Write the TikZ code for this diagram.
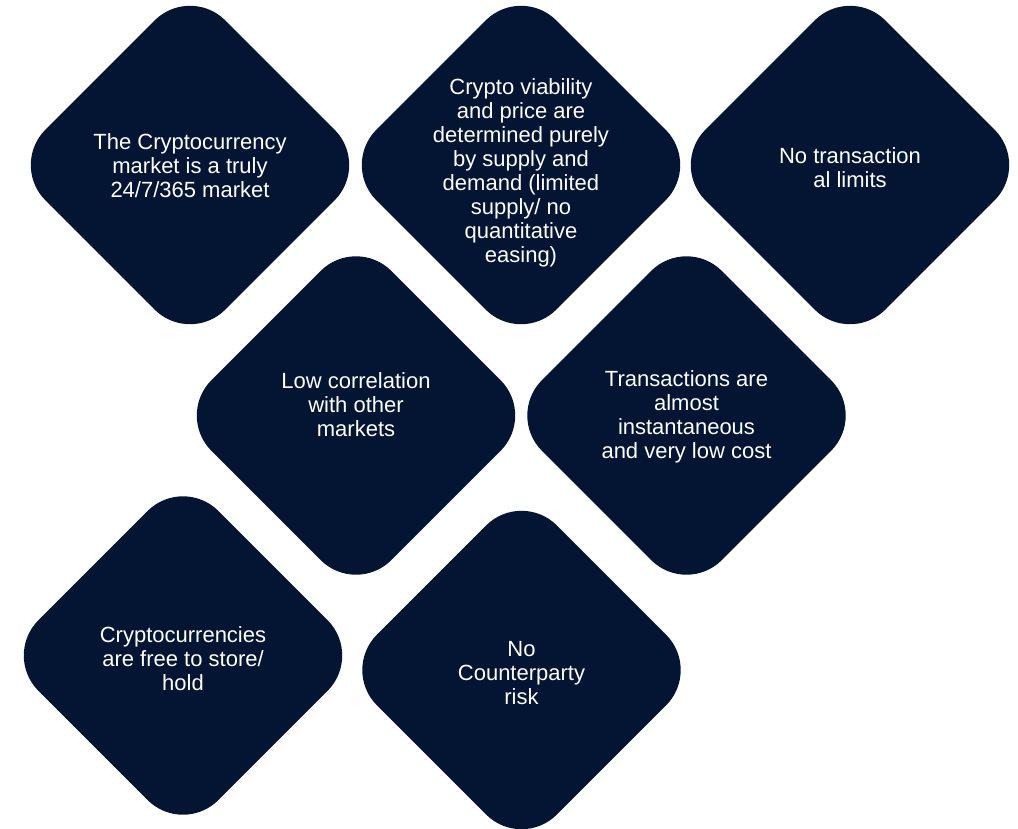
\documentclass[tikz,border=0pt]{standalone}
\usepackage{fontspec}
\setmainfont{Liberation Sans}
\usetikzlibrary{shapes.geometric}
\definecolor{navy}{RGB}{3,21,51}
\tikzset{
  gem/.style={diamond,aspect=1,fill=navy,rounded corners=50pt,minimum width=360pt,minimum height=360pt,inner sep=0pt},
  blurb/.style={text=white,align=center,inner sep=0pt,font=\fontsize{22}{24}\selectfont}
}
\begin{document}
\begin{tikzpicture}[x=1pt,y=-1pt]
  \useasboundingbox (0,0) rectangle (1018,828);
  \node (D1) [gem] at (190,165) {};
  \node (D2) [gem] at (521,165) {};
  \node (D3) [gem] at (850,165) {};
  \node (D4) [gem] at (356,415.5) {};
  \node (D5) [gem] at (686.5,415.5) {};
  \node (D6) [gem] at (183,655.5) {};
  \node (D7) [gem] at (521.5,670) {};
  \node (T1) [blurb] at ([yshift=-0.5pt]D1.center) {The Cryptocurrency\\market is a truly\\24/7/365 market};
  \node (T2) [blurb] at ([yshift=-7.5pt]D2.center) {Crypto viability\\and price are\\determined purely\\by supply and\\demand (limited\\supply/ no\\quantitative\\easing)};
  \node (T3) [blurb] at ([yshift=-2.5pt]D3.center) {No transaction\\al limits};
  \node (T4) [blurb] at ([yshift=10.5pt]D4.center) {Low correlation\\with other\\markets};
  \node (T5) [blurb] at ([yshift=-1.5pt]D5.center) {Transactions are\\almost\\instantaneous\\and very low cost};
  \node (T6) [blurb] at ([yshift=-3.5pt]D6.center) {Cryptocurrencies\\are free to store/\\hold};
  \node (T7) [blurb] at ([yshift=-3pt]D7.center) {No\\Counterparty\\risk};
\end{tikzpicture}
\end{document}
